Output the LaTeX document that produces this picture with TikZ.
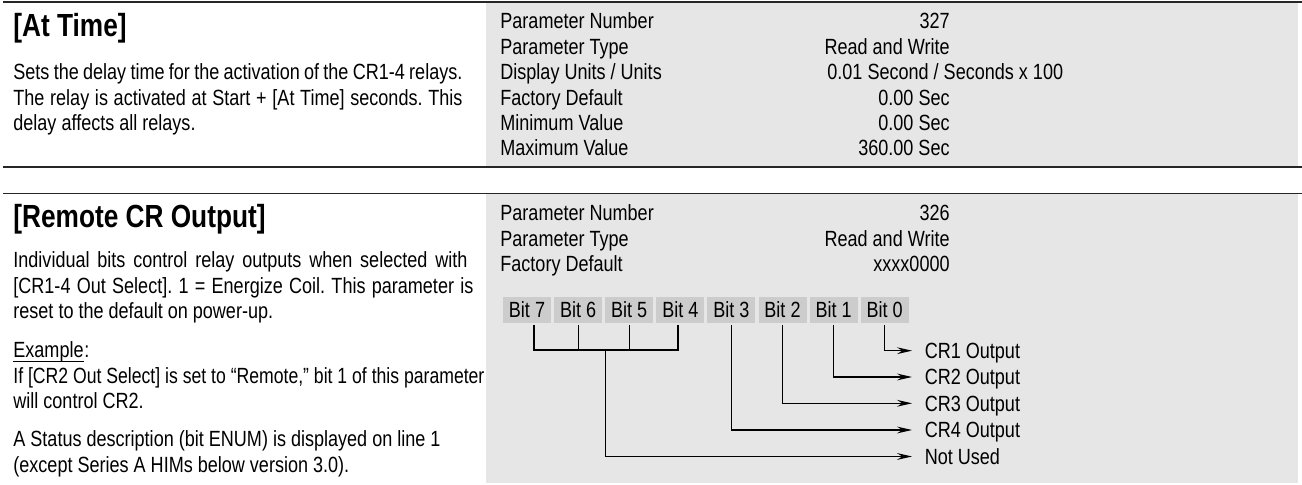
\documentclass[tikz,border=0pt]{standalone}
\usepackage{fontspec}
\setmainfont{Liberation Sans}[FakeStretch=0.82]
\usepackage{graphicx}
\usetikzlibrary{arrows.meta}
\definecolor{panel}{RGB}{230,230,230}
\definecolor{bitgray}{RGB}{204,204,204}
\frenchspacing
\begin{document}
\frenchspacing
\begin{tikzpicture}[x=0.5pt,y=-0.5pt,
  every node/.style={inner sep=0pt, font=\fontsize{11pt}{12.7pt}\selectfont\frenchspacing},
  txt/.style={anchor=base west},
  val/.style={anchor=base east},
  ttl/.style={anchor=base west, font=\fontsize{16pt}{18pt}\selectfont\bfseries},
  bitbox/.style={fill=bitgray, minimum width=24pt, minimum height=13.3pt, text height=7.9pt, text depth=0pt},
  outlbl/.style={anchor=west, inner xsep=6.2pt, text height=7.9pt, text depth=0pt},
  conn/.style={line width=0.6pt, black},
  arr/.style={conn, -{Stealth[length=7.5pt,width=3.4pt,inset=2.6pt]}},
  rule/.style={line width=0.7pt, black!85},
  uline/.style={line width=0.45pt, black}]
\useasboundingbox (0,0) rectangle (1302,485);
% panels and rules
\fill[panel] (486,3) rectangle (1298,166);
\fill[panel] (486,194.5) rectangle (1298,483);
\draw[rule] (3,2) -- (1302,2);
\draw[rule] (3,167) -- (1302,167);
\draw[rule] (3,193.5) -- (1302,193.5);
% ---------- top section ----------
\node[ttl] (t1) at (13,36.5) {[At Time]};
\node[txt] (d1a) at (13,80) {\hbox to 224.5pt{Sets the delay time for the activation of the CR1-4 relays.}};
\node[txt] (d1b) at (13,105.4) {\hbox to 224.5pt{The relay is activated at Start + [At Time] seconds. This}};
\node[txt] (d1c) at (13,130.8) {delay affects all relays.};
\node[txt] (l11) at (500,29) {Parameter Number};
\node[txt] (l12) at (500,54.4) {Parameter Type};
\node[txt] (l13) at (500,79.8) {Display Units / Units};
\node[txt] (l14) at (500,105.2) {Factory Default};
\node[txt] (l15) at (500,130.6) {Minimum Value};
\node[txt] (l16) at (500,156) {Maximum Value};
\node[val] (v11) at (950,29) {327};
\node[val] (v12) at (950,54.4) {Read and Write};
\node[txt] (v13) at (827,79.8) {0.01 Second / Seconds x 100};
\node[val] (v14) at (950,105.2) {0.00 Sec};
\node[val] (v15) at (950,130.6) {0.00 Sec};
\node[val] (v16) at (950,156) {360.00 Sec};
% ---------- bottom section ----------
\node[ttl] (t2) at (13,228) {[Remote CR Output]};
\node[txt] (d2a) at (13,268) {\hbox to 227pt{Individual bits control relay outputs when selected with}};
\node[txt] (d2b) at (13,293.4) {\hbox to 230pt{[CR1-4 Out Select]. 1 = Energize Coil. This parameter is}};
\node[txt] (d2c) at (13,318.8) {reset to the default on power-up.};
\node[txt] (ex) at (13,358) {Example};
\node[txt] (excolon) at (ex.base east) {:};
\draw[uline] ([yshift=-1.7pt]ex.base west) -- ([yshift=-1.7pt]ex.base east);
\node[txt] (d2e) at (13,383.4) {\resizebox{235.5pt}{\height}{If [CR2 Out Select] is set to “Remote,” bit 1 of this parameter}};
\node[txt] (d2f) at (13,408.8) {will control CR2.};
\node[txt] (d2g) at (13,447) {A Status description (bit ENUM) is displayed on line 1};
\node[txt] (d2h) at (13,472.4) {(except Series A HIMs below version 3.0).};
\node[txt] (l21) at (500,221) {Parameter Number};
\node[txt] (l22) at (500,246.4) {Parameter Type};
\node[txt] (l23) at (500,271.8) {Factory Default};
\node[val] (v21) at (950,221) {326};
\node[val] (v22) at (950,246.4) {Read and Write};
\node[val] (v23) at (950,271.8) {xxxx0000};
% bit boxes
\foreach \k in {7,...,0} {
  \node[bitbox] (b\k) at ({527+51.1*(7-\k)},310) {Bit \k};
}
% output labels
\node[outlbl] (cr1) at (912,350.7) {CR1 Output};
\node[outlbl] (cr2) at (912,377) {CR2 Output};
\node[outlbl] (cr3) at (912,403.3) {CR3 Output};
\node[outlbl] (cr4) at (912,430) {CR4 Output};
\node[outlbl] (nu) at (912,456.5) {Not Used};
% connectors
\coordinate (busL) at (534,350);
\coordinate (busR) at (678,350);
\coordinate (busJ) at (605.7,350);
\draw[conn, shorten <=0.8pt, shorten >=0.8pt] (b7.south -| busL) -- (busL) -- (busR) -- (b4.south -| busR);
\draw[conn, shorten <=0.8pt] (b6.south) -- (b6.south |- busL);
\draw[conn, shorten <=0.8pt] (b5.south) -- (b5.south |- busL);
\draw[arr] (busJ) |- (nu.west);
\draw[arr, shorten <=0.8pt] (b3.south) |- (cr4.west);
\draw[arr, shorten <=0.8pt] (b2.south) |- (cr3.west);
\draw[arr, shorten <=0.8pt] (b1.south) |- (cr2.west);
\draw[arr, shorten <=0.8pt] (b0.south) |- (cr1.west);
\end{tikzpicture}
\end{document}
